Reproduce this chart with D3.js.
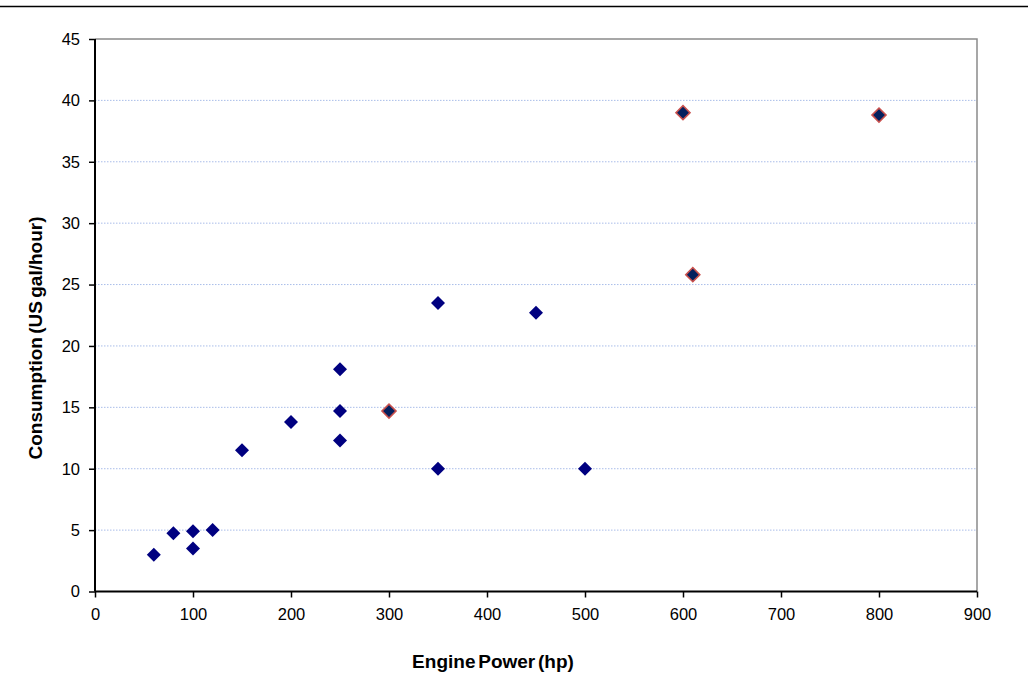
<!DOCTYPE html>
<html><head><meta charset="utf-8">
<script src="https://cdn.jsdelivr.net/npm/d3@7"></script>
<style>
html,body{margin:0;padding:0;background:#fff;}
svg{display:block;font-family:Arial,"Liberation Sans",sans-serif;}
</style></head>
<body>
<svg id="chart" width="1028" height="675"></svg>
<script>
const powerA = [60, 80, 100, 100, 120, 150, 200, 250, 250, 250, 350, 350, 450, 500];
const consA  = [3.0, 4.75, 4.9, 3.5, 5.0, 11.5, 13.8, 18.1, 14.7, 12.3, 23.5, 10.0, 22.7, 10.0];
const powerB = [300, 600, 610, 800];
const consB  = [14.7, 39.0, 25.8, 38.8];
const xTicks = [0, 100, 200, 300, 400, 500, 600, 700, 800, 900];
const yTicks = [0, 5, 10, 15, 20, 25, 30, 35, 40, 45];
const xTitle = "Engine Power (hp)";
const yTitle = "Consumption (US gal/hour)";

const svg = d3.select("#chart");
const L = 95, R = 977, T = 39, B = 591.5;
const x = d3.scaleLinear().domain([0, 900]).range([L, R]);
const y = d3.scaleLinear().domain([0, 45]).range([B, T]);

// top rule
svg.append("line").attr("x1", 0).attr("x2", 1028).attr("y1", 6.5).attr("y2", 6.5)
  .attr("stroke", "#000").attr("stroke-width", 1.5);

// gridlines
svg.append("g").selectAll("line").data(yTicks.filter(d => d > 0 && d < 45)).join("line")
  .attr("x1", L).attr("x2", R).attr("y1", d => y(d)).attr("y2", d => y(d))
  .attr("stroke", "#a9bde9").attr("stroke-width", 1).attr("stroke-dasharray", "1.5,1.5");

// top/right border
svg.append("path").attr("d", `M${L},${T}H${R}V${B}`).attr("fill", "none")
  .attr("stroke", "#8a8a8a").attr("stroke-width", 1.5);

// axes
const xAxis = svg.append("g").attr("transform", `translate(0,${B})`)
  .call(d3.axisBottom(x).tickValues(xTicks).tickSize(6).tickPadding(10.5).tickFormat(d3.format("d")));
const yAxis = svg.append("g").attr("transform", `translate(${L},0)`)
  .call(d3.axisLeft(y).tickValues(yTicks).tickSize(6).tickPadding(9).tickFormat(d3.format("d")));
[xAxis, yAxis].forEach(a => {
  a.attr("font-size", null).attr("font-family", null);
  a.select(".domain").attr("stroke", "#000").attr("stroke-width", 2);
  a.selectAll(".tick line").attr("stroke", "#000").attr("stroke-width", 1.5);
  a.selectAll(".tick text").attr("fill", "#000").style("font-size", "16.5px")
    .style("font-family", "Arial, 'Liberation Sans', sans-serif");
});
xAxis.select(".domain").attr("d", `M${L},0H${R}`);
yAxis.select(".domain").attr("d", `M0,${B}V${T}`);

// markers
const diamond = d3.symbol().type(d3.symbolSquare).size(98);
svg.append("g").selectAll("path").data(powerA.map((p, i) => [p, consA[i]])).join("path")
  .attr("d", diamond)
  .attr("transform", d => `translate(${x(d[0])},${y(d[1])}) rotate(45)`)
  .attr("fill", "#000080");
svg.append("g").selectAll("path").data(powerB.map((p, i) => [p, consB[i]])).join("path")
  .attr("d", diamond)
  .attr("transform", d => `translate(${x(d[0])},${y(d[1])}) rotate(45)`)
  .attr("fill", "#04205e").attr("stroke", "#c9504d").attr("stroke-width", 1.6);

// titles
svg.append("text").attr("x", 493).attr("y", 668).attr("text-anchor", "middle")
  .style("font-size", "19px").style("font-weight", "bold").style("word-spacing", "-2.5px")
  .attr("fill", "#000").text(xTitle);
svg.append("text").attr("transform", `translate(42,338) rotate(-90)`)
  .attr("text-anchor", "middle")
  .style("font-size", "19px").style("font-weight", "bold").style("word-spacing", "-2px")
  .attr("fill", "#000").text(yTitle);
</script>
</body></html>
